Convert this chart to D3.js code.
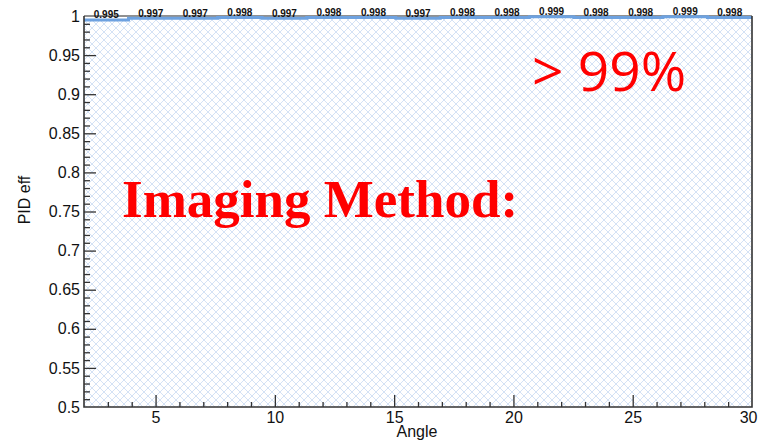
<!DOCTYPE html>
<html lang="en">
<head>
    <meta charset="UTF-8">
    <title>PID eff vs Angle</title>
    <script src="https://d3js.org/d3.v7.min.js"></script>
    <style>
        body { margin: 0; background: white; }
    </style>
</head>
<body>
<svg id="main" width="758" height="444"></svg>
<script>
    // histogram: 15 equal bins between 2 and 30, and efficiency per bin
    let binEdges = [2, 3.867, 5.733, 7.6, 9.467, 11.333, 13.2, 15.067, 16.933, 18.8, 20.667, 22.533, 24.4, 26.267, 28.133, 30];
    let effVals = [0.995, 0.997, 0.997, 0.998, 0.997, 0.998, 0.998, 0.997, 0.998, 0.998, 0.999, 0.998, 0.998, 0.999, 0.998];

    let xTicks = [5, 10, 15, 20, 25, 30];
    let yTicks = [0.5, 0.55, 0.6, 0.65, 0.7, 0.75, 0.8, 0.85, 0.9, 0.95, 1];

    let svg = d3.select('svg#main');
    let plot = {left: 84, right: 752, top: 16, bottom: 407};

    let x = d3.scaleLinear().domain([2, 30]).range([plot.left, plot.right]);
    let y = d3.scaleLinear().domain([0.5, 1]).range([plot.bottom, plot.top]);

    // hatch pattern like ROOT fill style
    let defs = svg.append('defs');
    let pat = defs.append('pattern')
        .attr('id', 'hatch')
        .attr('patternUnits', 'userSpaceOnUse')
        .attr('width', 8).attr('height', 8);
    pat.append('path').attr('d', 'M0,0 L8,8 M8,0 L0,8 M-1,7 L1,9 M7,-1 L9,1')
        .style('stroke', '#c9daf3').style('stroke-width', 0.8).style('fill', 'none');

    // filled histogram area
    let stepPts = [];
    effVals.forEach(function (v, i) {
        stepPts.push([binEdges[i], v]);
        stepPts.push([binEdges[i + 1], v]);
    });
    let area = d3.area()
        .x(function (d) { return x(d[0]); })
        .y0(y(0.5))
        .y1(function (d) { return y(d[1]); });
    svg.append('path').attr('d', area(stepPts))
        .style('fill', 'url(#hatch)');

    // top frame line
    svg.append('line')
        .attr('x1', plot.left).attr('x2', plot.right)
        .attr('y1', y(1)).attr('y2', y(1))
        .style('stroke', '#222').style('stroke-width', 1.2);

    // histogram outline
    let line = d3.line()
        .x(function (d) { return x(d[0]); })
        .y(function (d) { return y(d[1]); });
    svg.append('path').attr('d', line(stepPts))
        .style('fill', 'none')
        .style('stroke', '#6ea2e0')
        .style('stroke-width', 3);

    // bin content labels
    svg.append('g').selectAll('text')
        .data(effVals)
        .enter().append('text')
        .attr('x', function (d, i) { return x((binEdges[i] + binEdges[i + 1]) / 2); })
        .attr('y', function (d) { return y(d) - 1.5; })
        .attr('text-anchor', 'middle')
        .style('font-family', 'Liberation Sans, Arial, sans-serif')
        .style('font-weight', 'bold')
        .style('font-size', '10px')
        .style('fill', '#111')
        .text(function (d) { return d3.format('.3f')(d); });

    // axes (ticks pointing inward, ROOT style)
    let xAxis = svg.append('g')
        .attr('transform', 'translate(0,' + plot.bottom + ')');
    xAxis.call(d3.axisTop(x).tickValues(d3.range(3, 30, 1)).tickSize(5).tickFormat(''));
    xAxis.call(function (g) {
        g.selectAll('.tick').filter(function (d) { return d % 5 === 0; })
            .select('line').attr('y2', -12);
    });
    xAxis.select('.domain').remove();
    xAxis.selectAll('line').style('stroke', '#333').style('stroke-width', 1.3);

    let xLabels = svg.append('g')
        .attr('transform', 'translate(0,' + plot.bottom + ')')
        .call(d3.axisBottom(x).tickValues(xTicks).tickSize(0).tickPadding(5));
    xLabels.select('.domain').remove();
    xLabels.selectAll('text')
        .style('font-family', 'Liberation Sans, Arial, sans-serif')
        .style('font-size', '16px')
        .style('fill', '#111');
    // last label pulled in so it stays on the page
    xLabels.selectAll('.tick').filter(function (d) { return d === 30; })
        .select('text').attr('text-anchor', 'end').attr('dx', 5);

    let yAxis = svg.append('g')
        .attr('transform', 'translate(' + plot.left + ',0)');
    yAxis.call(d3.axisRight(y).tickValues(d3.range(51, 100, 1).map(function (d) { return d / 100; }))
        .tickSize(6).tickFormat(''));
    yAxis.call(function (g) {
        g.selectAll('.tick').filter(function (d) { return Math.round(d * 100) % 5 === 0; })
            .select('line').attr('x2', 12);
    });
    yAxis.select('.domain').remove();
    yAxis.selectAll('line').style('stroke', '#333').style('stroke-width', 1.3);

    let yLabels = svg.append('g')
        .attr('transform', 'translate(' + plot.left + ',0)')
        .call(d3.axisLeft(y).tickValues(yTicks).tickSize(0).tickPadding(4)
            .tickFormat(function (d) { return String(d); }));
    yLabels.select('.domain').remove();
    yLabels.selectAll('text')
        .style('font-family', 'Liberation Sans, Arial, sans-serif')
        .style('font-size', '16px')
        .style('fill', '#111');

    // frame: left, bottom, right
    svg.append('path')
        .attr('d', 'M' + plot.left + ',' + plot.top + ' V' + plot.bottom + ' H' + plot.right + ' V' + plot.top)
        .style('fill', 'none').style('stroke', '#333').style('stroke-width', 1.6);

    // axis titles
    svg.append('text')
        .attr('x', 417).attr('y', 437)
        .attr('text-anchor', 'middle')
        .style('font-family', 'Liberation Sans, Arial, sans-serif')
        .style('font-size', '16px')
        .style('fill', '#111')
        .text('Angle');
    svg.append('text')
        .attr('transform', 'translate(30,200) rotate(-90)')
        .attr('text-anchor', 'middle')
        .style('font-family', 'Liberation Sans, Arial, sans-serif')
        .style('font-size', '16px')
        .style('fill', '#111')
        .text('PID eff');

    // annotations
    svg.append('text')
        .attr('x', 122).attr('y', 217)
        .style('font-family', 'Liberation Serif, Times New Roman, serif')
        .style('font-weight', 'bold')
        .style('font-size', '53px')
        .style('fill', '#ff0000')
        .text('Imaging Method:');
    svg.append('text')
        .attr('x', 532).attr('y', 91)
        .style('font-family', 'Open Sans, Liberation Sans, sans-serif')
        .style('font-size', '55px')
        .style('fill', '#ff0000')
        .text('> 99%');
</script>
</body>
</html>
